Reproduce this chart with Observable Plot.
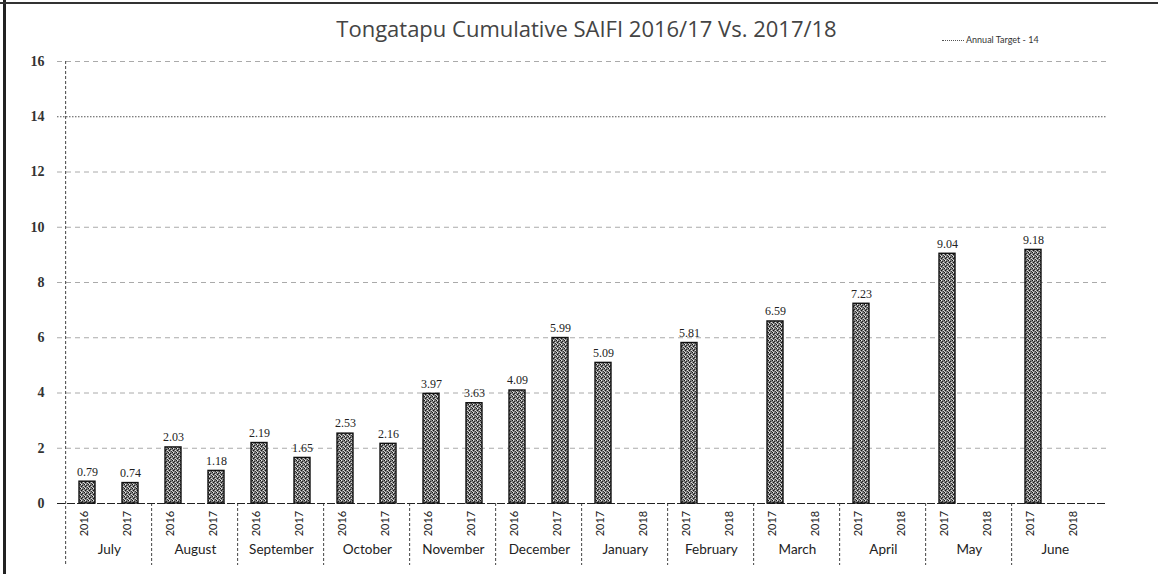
<!DOCTYPE html>
<html>
<head>
<meta charset="utf-8">
<script src="https://cdn.jsdelivr.net/npm/d3@7"></script>
<script src="https://cdn.jsdelivr.net/npm/@observablehq/plot@0.6"></script>
<style>
html, body { margin: 0; padding: 0; background: #fff; }
#wrap { position: relative; width: 1158px; height: 574px; overflow: hidden; background: #fff; }
#head { position: relative; height: 44px; }
#title { position: absolute; left: 0; width: 1173px; top: 17px; line-height: 23px; text-align: center;
  font-family: "Open Sans", Lato, sans-serif; font-size: 22px; color: #444; }
#legend { position: absolute; left: 942px; top: 34px; font-family: Lato, sans-serif; font-size: 9px; color: #333; white-space: nowrap; }
#legend .sw { display: inline-block; width: 22px; border-top: 1px dotted #555; vertical-align: middle; margin-right: 2px; }
#bl { position: absolute; left: 3px; top: 0; width: 3px; height: 574px; background: #222; }
#bt { position: absolute; left: 0; top: 2px; width: 1158px; height: 2px; background: #333; }
</style>
</head>
<body>
<div id="wrap">
  <div id="head">
    <div id="title">Tongatapu Cumulative SAIFI 2016/17 Vs. 2017/18</div>
    <div id="legend"><span class="sw"></span>Annual Target - 14</div>
  </div>
  <div id="chart"></div>
  <div id="bl"></div>
  <div id="bt"></div>
</div>
<script>
// ---- data ----
const months = ["July", "August", "September", "October", "November", "December",
                "January", "February", "March", "April", "May", "June"];
const years = ["2016", "2017", "2016", "2017", "2016", "2017", "2016", "2017", "2016", "2017", "2016", "2017",
               "2017", "2018", "2017", "2018", "2017", "2018", "2017", "2018", "2017", "2018", "2017", "2018"];
const saifi = [0.79, 0.74, 2.03, 1.18, 2.19, 1.65, 2.53, 2.16, 3.97, 3.63, 4.09, 5.99,
               5.09, null, 5.81, null, 6.59, null, 7.23, null, 9.04, null, 9.18, null];
const yTicks = [0, 2, 4, 6, 8, 10, 12, 14, 16];
const annualTarget = 14;

// ---- table ----
const rows = years.map((yr, i) => ({
  key: months[Math.floor(i / 2)] + " " + yr,
  month: months[Math.floor(i / 2)],
  year: yr,
  value: saifi[i]
}));
const monthStarts = rows.filter((d, i) => i % 2 === 0);
const bars = rows.filter(d => d.value != null);

const W = 1158, H = 530, ML = 57, MR = 51, MT = 17, MB = 71;
const PI = 0.62, PO = 0.31;
const step = (W - ML - MR) / (rows.length - PI + 2 * PO);

const chart = Plot.plot({
  width: W, height: H,
  marginLeft: ML, marginRight: MR, marginTop: MT, marginBottom: MB,
  style: { fontFamily: "Liberation Serif", fontSize: "14px", color: "#333", background: "transparent", overflow: "visible" },
  x: { domain: rows.map(d => d.key), paddingInner: PI, paddingOuter: PO, axis: null },
  y: { domain: [0, 16], ticks: 8, tickSize: 0, tickPadding: 13, label: null },
  marks: [
    Plot.ruleY(yTicks.filter(v => v > 0 && v !== annualTarget), { stroke: "#aaa", strokeDasharray: "5,4", strokeWidth: 1 }),
    Plot.ruleY([annualTarget], { stroke: "#555", strokeDasharray: "1.5,1.5", strokeWidth: 1 }),
    Plot.ruleX([rows[0].key], { dx: -step / 2, y1: 16, y2: 0, insetBottom: -62, stroke: "#444", strokeDasharray: "3,2" }),
    Plot.ruleX(monthStarts.slice(1), { x: "key", dx: -step / 2, y1: 0, y2: 0, insetBottom: -62, stroke: "#444", strokeDasharray: "3,2" }),
    Plot.ruleY([0], { stroke: "#222", strokeDasharray: "8,2" }),
    Plot.barY(bars, { x: "key", y: "value", fill: "url(#speck)", stroke: "#111", strokeWidth: 1.4 }),
    Plot.text(bars, { x: "key", y: "value", text: d => d.value.toFixed(2), dy: -10, fontSize: 12, fill: "#222" }),
    Plot.text(rows, { x: "key", text: "year", frameAnchor: "bottom", dy: 20, rotate: -90, fontFamily: "Lato", fontSize: 11, fill: "#222" }),
    Plot.text(monthStarts, { x: "key", text: "month", frameAnchor: "bottom", dx: step / 2, dy: 50, fontFamily: "Lato", fontSize: 13.5, fill: "#222" })
  ]
});

// speckled bar texture
const ns = "http://www.w3.org/2000/svg";
const defs = document.createElementNS(ns, "defs");
const pat = document.createElementNS(ns, "pattern");
pat.setAttribute("id", "speck");
pat.setAttribute("width", "4");
pat.setAttribute("height", "4");
pat.setAttribute("patternUnits", "userSpaceOnUse");
const cells = [
  [0, 0, 4, 4, "#7f7f7f"],
  [0, 0, 1, 1, "#111"], [2, 1, 1, 1, "#222"], [1, 2, 1, 1, "#111"], [3, 3, 1, 1, "#333"],
  [1, 0, 1, 1, "#eee"], [3, 2, 1, 1, "#ddd"], [0, 3, 1, 1, "#ccc"]
];
for (const [x, y, w, h, c] of cells) {
  const r = document.createElementNS(ns, "rect");
  r.setAttribute("x", x); r.setAttribute("y", y);
  r.setAttribute("width", w); r.setAttribute("height", h);
  r.setAttribute("fill", c);
  pat.appendChild(r);
}
defs.appendChild(pat);
chart.insertBefore(defs, chart.firstChild);
chart.querySelectorAll("g[aria-label='y-axis'] text, g[aria-label='y-axis tick label'] text").forEach(t => {
  t.setAttribute("font-weight", "bold");
});
document.getElementById("chart").appendChild(chart);
</script>
</body>
</html>
